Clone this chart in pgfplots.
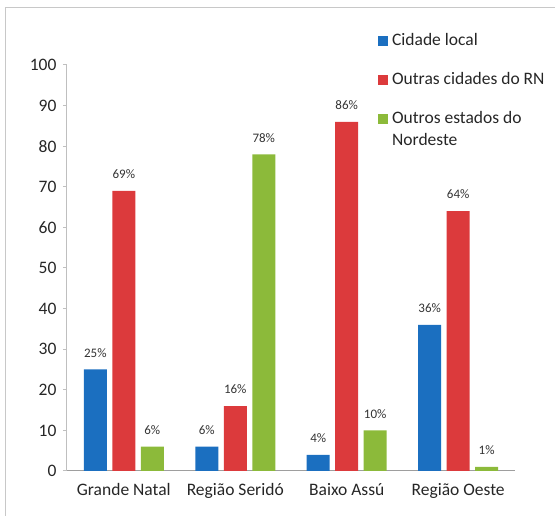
\documentclass[border=0pt]{standalone}
\usepackage{pgfplots}
\pgfplotsset{compat=1.18}
\usepackage{fontspec}
\setmainfont{Carlito}
\definecolor{cblue}{HTML}{1B6FC0}
\definecolor{cred}{HTML}{DC3A3C}
\definecolor{cgreen}{HTML}{8CBA3A}
\definecolor{framec}{HTML}{C8C8C8}
\definecolor{txt}{HTML}{262626}
\definecolor{vlab}{HTML}{333333}
\begin{document}
\begin{tikzpicture}[x=1pt,y=1pt]
\useasboundingbox (0,0) rectangle (555,516);
\draw[framec, line width=1pt] (5,0) -- (5,508) -- (556,508);
\begin{axis}[
  at={(67pt,45pt)}, anchor=south west,
  scale only axis, width=448pt, height=406pt,
  ybar=5.5pt, bar width=23pt,
  ymin=0, ymax=100, ytick={0,10,...,100},
  xmin=-0.51, xmax=3.51,
  xtick={0,1,2,3},
  xticklabels={Grande Natal, Região Seridó, Baixo Assú, Região Oeste},
  axis x line*=bottom, axis y line*=left,
  x axis line style={draw=black!38, line width=1pt},
  y axis line style={draw=black!25, line width=1pt},
  xtick style={draw=none},
  ytick style={draw=black!25, line width=1pt},
  tick align=outside, major tick length=4pt,
  ticklabel style={font=\fontsize{17.5}{22}\selectfont, text=txt},
  /pgf/number format/assume math mode=true,
  yticklabel style={xshift=-3pt},
  xticklabel style={yshift=-5pt},
  nodes near coords={\pgfmathprintnumber{\pgfplotspointmeta}\%},
  every node near coord/.append style={anchor=south, inner sep=0pt, yshift=12pt,
    font=\fontsize{13}{15}\selectfont, text=vlab},
  legend image code/.code={\fill[#1] (0pt,0pt) rectangle (10pt,10pt);},
  legend style={draw=none, fill=none, at={(0.694,1.08)}, anchor=north west,
    inner sep=0pt, row sep=22pt, column sep=4pt,
    font=\fontsize{17.5}{22}\selectfont,
    nodes={anchor=base west, inner sep=0pt, text height=13pt, text depth=4pt, text=txt}},
]
\addplot[fill=cblue, draw=none] coordinates {(0,25) (1,6) (2,4) (3,36)};
\addlegendentry{Cidade local}
\addplot[fill=cred, draw=none] coordinates {(0,69) (1,16) (2,86) (3,64)};
\addlegendentry{Outras cidades do RN}
\addplot[fill=cgreen, draw=none] coordinates {(0,6) (1,78) (2,10) (3,1)};
\addlegendentry{\begin{tabular}[t]{@{}l@{}}Outros estados do\\Nordeste\end{tabular}}
\end{axis}
\end{tikzpicture}
\end{document}
